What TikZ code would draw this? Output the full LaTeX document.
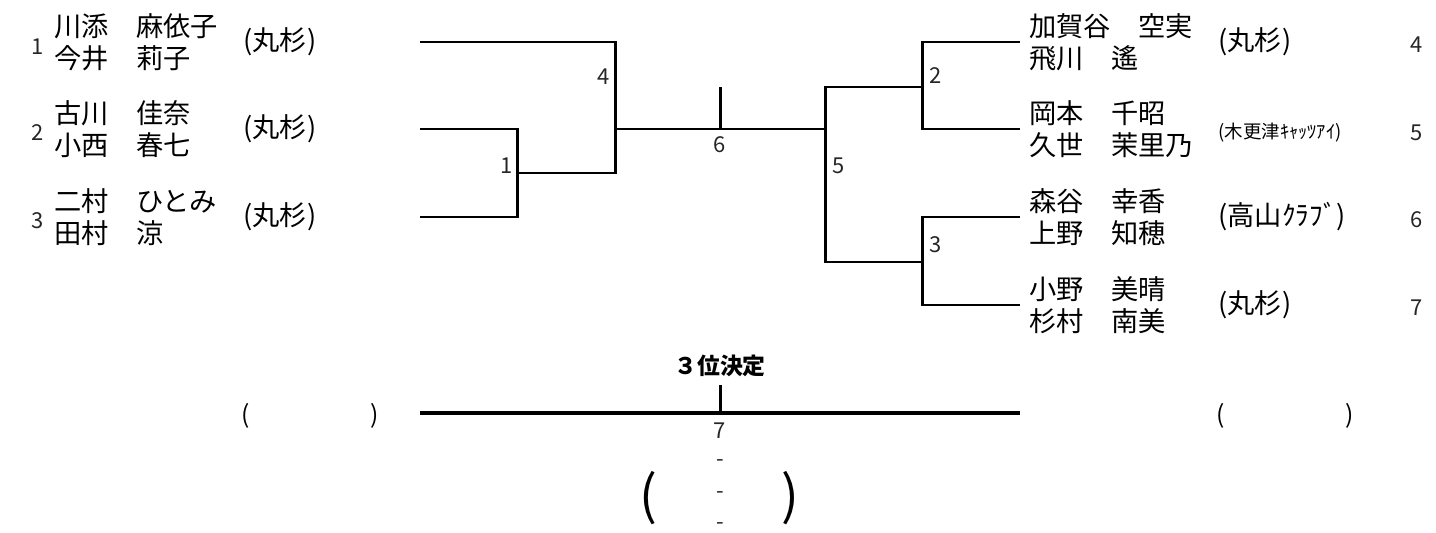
\documentclass[tikz,border=0pt]{standalone}
\usepackage{fontspec}
\setmainfont{Noto Sans CJK JP}
\usetikzlibrary{positioning}

\begin{document}
\begin{tikzpicture}[x=0.02cm, y=-0.02cm, line width=1.7pt,
	nome/.style = {anchor=west, align=left, inner sep=0pt,
		font=\fontsize{15.5}{18.2}\selectfont},
	soc/.style  = {anchor=west, inner sep=0pt,
		font=\fontsize{15.5}{18}\selectfont},
	num/.style  = {inner sep=0pt, text=black!85,
		font=\fontsize{12.5}{14}\selectfont},
	par/.style  = {inner sep=0pt, font=\fontsize{14}{16}\selectfont},
	]
	\useasboundingbox (0,0) rectangle (1436,533);
	
	%% ── Parametri geometrici (in pixel) ──────────────────────────────────────
	\def\xL{420}    % inizio righe a sinistra
	\def\xR{1020}   % fine righe a destra
	\def\yA{42}     \def\yB{129}    \def\yC{217}    \def\yD{305}
	\def\yM{413}    % riga 3 posto
	
	%% ── Coppie a sinistra ────────────────────────────────────────────────────
	\node[num]  (k1) at (38,\yA+5) {1};
	\node[nome] (n1) at (53,\yA) {川添　麻依子\\今井　莉子};
	\node[soc]  (s1) at (242,\yA) {(丸杉)};
	
	\node[num]  (k2) at (38,\yB+4) {2};
	\node[nome] (n2) at (53,\yB) {古川　佳奈\\小西　春七};
	\node[soc]  (s2) at (242,\yB) {(丸杉)};
	
	\node[num]  (k3) at (38,\yC+4) {3};
	\node[nome] (n3) at (53,\yC) {二村　ひとみ\\田村　涼};
	\node[soc]  (s3) at (242,\yC) {(丸杉)};
	
	%% ── Coppie a destra ──────────────────────────────────────────────────────
	\node[nome] (n4) at (1028,\yA) {加賀谷　空実\\飛川　遙};
	\node[soc]  (s4) at (1217,\yA) {(丸杉)};
	\node[num]  (k4) at (1417,\yA+3) {4};
	
	\node[nome] (n5) at (1028,\yB) {岡本　千昭\\久世　茉里乃};
	\node[soc, font=\fontsize{10.5}{12}\selectfont]
	            (s5) at (1217,\yB+4) {(木更津ｷｬｯﾂｱｲ)};
	\node[num]  (k5) at (1417,\yB+4) {5};
	
	\node[nome] (n6) at (1028,\yC) {森谷　幸香\\上野　知穂};
	\node[soc]  (s6) at (1217,\yC) {(高山ｸﾗﾌﾞ)};
	\node[num]  (k6) at (1417,\yC+3) {6};
	
	\node[nome] (n7) at (1028,\yD) {小野　美晴\\杉村　南美};
	\node[soc]  (s7) at (1217,\yD) {(丸杉)};
	\node[num]  (k7) at (1417,\yD+3) {7};
	
	%% ── Punti del tabellone ──────────────────────────────────────────────────
	\coordinate (p1) at (\xL,\yA);
	\coordinate (p2) at (\xL,\yB);
	\coordinate (p3) at (\xL,\yC);
	\coordinate (q4) at (\xR,\yA);
	\coordinate (q5) at (\xR,\yB);
	\coordinate (q6) at (\xR,\yC);
	\coordinate (q7) at (\xR,\yD);
	\coordinate (m1) at (517,173);
	\coordinate (m4) at (615,\yB);
	\coordinate (m6) at (720,\yB);
	\coordinate (t6) at (720,87);
	\coordinate (m5) at (825,\yB);
	\coordinate (m2) at (922,87);
	\coordinate (m3) at (922,262);
	
	%% ── Tabellone ────────────────────────────────────────────────────────────
	\draw (p2) -| (m1) |- (p3);
	\draw (p1) -| (m4);
	\draw (m1) -| (m4);
	\draw (m4) -- (m5);
	\draw (m6) -- (t6);
	\draw (q4) -| (m2) |- (q5);
	\draw (q6) -| (m3) |- (q7);
	\draw (m2) -| (m5);
	\draw (m3) -| (m5);
	
	%% ── Numeri degli incontri ────────────────────────────────────────────────
	\node[num] (g1) at (507,166) {1};
	\node[num] (g4) at (604,77)  {4};
	\node[num] (g6) at (720,145) {6};
	\node[num] (g5) at (839,166) {5};
	\node[num] (g2) at (936,76)  {2};
	\node[num] (g3) at (936,245) {3};
	
	%% ── Finale per il 3 posto ────────────────────────────────────────────────
	\coordinate (b1) at (\xL,\yM);
	\coordinate (b2) at (\xR,\yM);
	\coordinate (m7) at (720,\yM);
	\coordinate (t7) at (720,385);
	\draw[line width=2.3pt] (b1) -- (b2);
	\draw (m7) -- (t7);
	\node[inner sep=0pt, font=\fontsize{13}{15}\selectfont\bfseries,
	      above=4pt of t7] (terzo) {３位決定};
	\node[num] (g7) at (720,431) {7};
	
	\node[par] (pa1) at (246,\yM+3) {(};
	\node[par] (pb1) at (375,\yM+3) {)};
	\node[par] (pa2) at (1221,\yM+3) {(};
	\node[par] (pb2) at (1350,\yM+3) {)};
	
	\foreach \y/\nn in {463/d1,495/d2,526/d3}
	\node[num] (\nn) at (720,\y) {-};
	\node[inner sep=0pt, font=\fontsize{30}{32}\selectfont] (pg1) at (648,498) {(};
	\node[inner sep=0pt, font=\fontsize{30}{32}\selectfont] (pg2) at (790,498) {)};
	
\end{tikzpicture}
\end{document}
